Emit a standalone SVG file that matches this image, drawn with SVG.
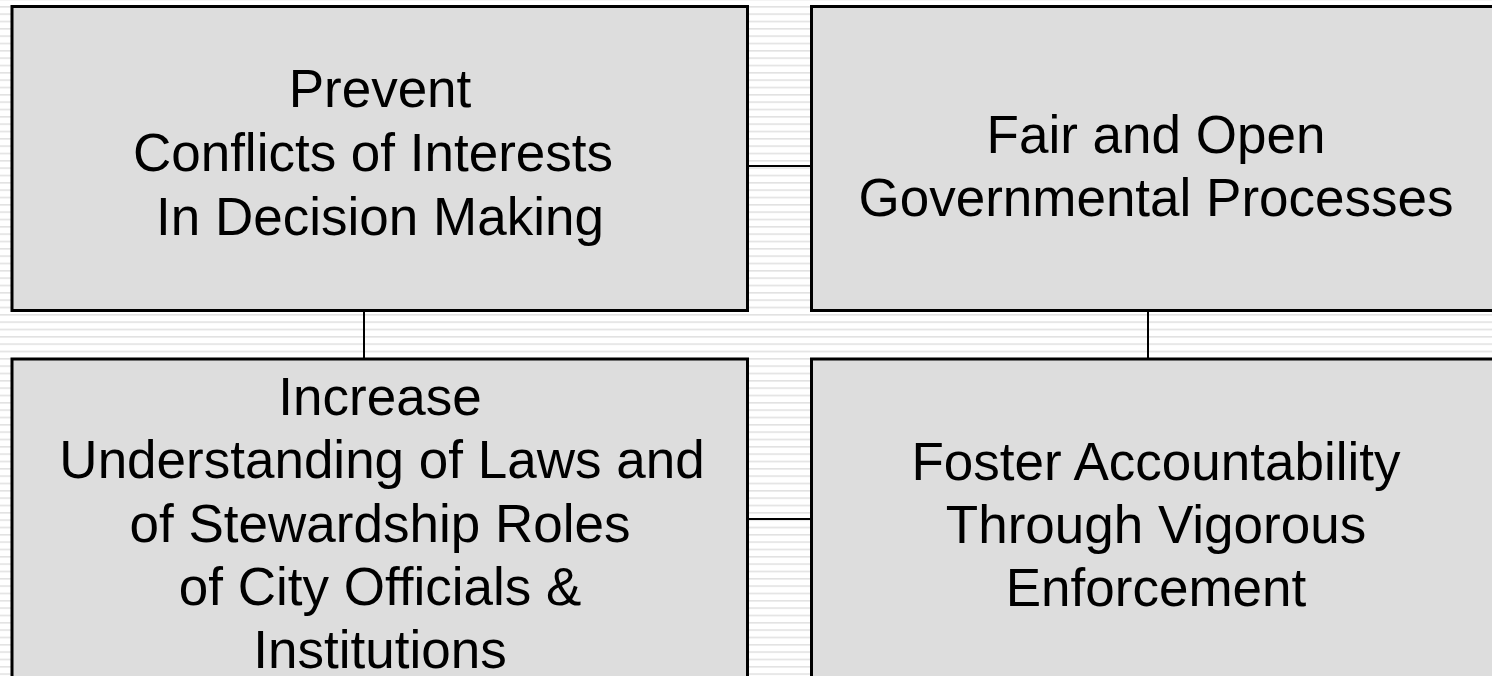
<svg xmlns="http://www.w3.org/2000/svg" width="1492" height="676" viewBox="0 0 1492 676">
  <defs>
    <pattern id="stripes" patternUnits="userSpaceOnUse" x="0" y="-1.33" width="20" height="7.333">
      <rect x="0" y="0" width="20" height="7.333" fill="#ffffff"/>
      <rect x="0" y="0" width="20" height="1.6" fill="#e2e2e2"/>
    </pattern>
  </defs>
  <style>
    .box { fill: #dddddd; stroke: #000000; stroke-width: 3; }
    .conn { stroke: #000000; stroke-width: 2; fill: none; }
    .lbl { font-family: "Liberation Sans", Arial, sans-serif; font-size: 53px; fill: #000000; text-anchor: middle; }
  </style>
  <rect x="0" y="0" width="1492" height="676" fill="url(#stripes)"/>

  <g id="connectors">
    <line class="conn" x1="748" y1="166" x2="811" y2="166"/>
    <line class="conn" x1="748" y1="519" x2="811" y2="519"/>
    <line class="conn" x1="364" y1="311" x2="364" y2="358"/>
    <line class="conn" x1="1148" y1="311" x2="1148" y2="358"/>
  </g>

  <g id="node-prevent">
    <rect class="box" x="12" y="6.5" width="735.5" height="304"/>
    <text class="lbl" x="380" y="107">Prevent</text>
    <text class="lbl" x="373" y="171">Conflicts of Interests</text>
    <text class="lbl" x="380" y="235">In Decision Making</text>
  </g>

  <g id="node-fair">
    <rect class="box" x="811.5" y="6.5" width="690" height="304"/>
    <text class="lbl" x="1156" y="153">Fair and Open</text>
    <text class="lbl" x="1156" y="216">Governmental Processes</text>
  </g>

  <g id="node-increase">
    <rect class="box" x="12" y="359" width="735.5" height="330"/>
    <text class="lbl" x="380" y="415">Increase</text>
    <text class="lbl" x="382" y="478">Understanding of Laws and</text>
    <text class="lbl" x="380" y="542">of Stewardship Roles</text>
    <text class="lbl" x="380" y="605">of City Officials &amp;</text>
    <text class="lbl" x="380" y="668">Institutions</text>
  </g>

  <g id="node-foster">
    <rect class="box" x="811.5" y="359" width="690" height="330"/>
    <text class="lbl" x="1156" y="480">Foster Accountability</text>
    <text class="lbl" x="1156" y="543">Through Vigorous</text>
    <text class="lbl" x="1156" y="606">Enforcement</text>
  </g>
</svg>
